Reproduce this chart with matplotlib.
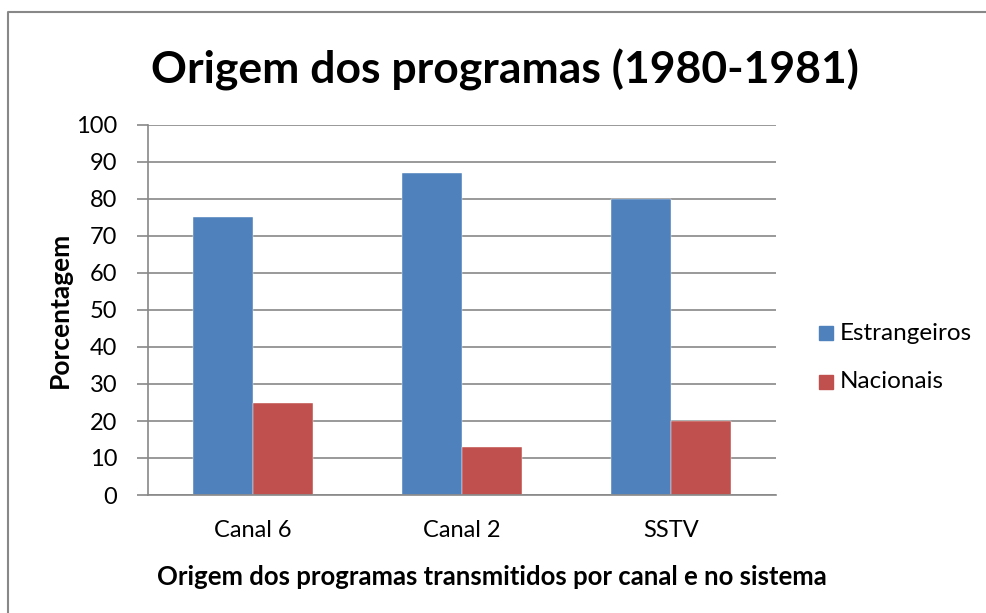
import matplotlib.pyplot as plt
import numpy as np
from matplotlib.lines import Line2D
from matplotlib.patches import Rectangle

plt.rcParams['font.family'] = ['Lato', 'DejaVu Sans']

canais = ["Canal 6", "Canal 2", "SSTV"]
estrangeiros = [75, 87, 80]
nacionais = [25, 13, 20]
series = ["Estrangeiros", "Nacionais"]
cores = ["#4F81BD", "#C0504D"]

fig = plt.figure(figsize=(9.87, 6.13), dpi=100)
ax = fig.add_axes([148 / 987, 1 - 495 / 613, (776 - 148) / 987, (495 - 125) / 613])

x = np.arange(len(canais))
w = 0.287
ax.bar(x - w / 2, estrangeiros, w, color=cores[0], edgecolor="white", linewidth=0.3)
ax.bar(x + w / 2, nacionais, w, color=cores[1], edgecolor="white", linewidth=0.3)

ax.set_xlim(-0.5, 2.5)
ax.set_ylim(0, 100)
ax.set_yticks(range(0, 101, 10))
ax.set_xticks(x)
ax.set_xticklabels(canais, fontsize=17)
ax.tick_params(axis="y", labelsize=17, length=8, width=1.2, color="#888888", pad=14)
ax.tick_params(axis="x", length=0, pad=18)
ax.yaxis.grid(True, color="#888888", linewidth=1.2)
ax.set_axisbelow(True)
for s in ["top", "right"]:
    ax.spines[s].set_visible(False)
for s in ["left", "bottom"]:
    ax.spines[s].set_color("#888888")
    ax.spines[s].set_linewidth(1.2)

fig.text(505 / 987, 1 - 70 / 613, "Origem dos programas (1980-1981)", fontsize=32,
         fontweight="bold", ha="center", va="center")
fig.text(60 / 987, 1 - 310 / 613, "Porcentagem", fontsize=19, fontweight="bold",
         rotation=90, ha="center", va="center")
fig.text(492 / 987, 1 - 577 / 613, "Origem dos programas transmitidos por canal e no sistema",
         fontsize=18.5, fontweight="bold", ha="center", va="center")

# legenda
for i, (nome, cor) in enumerate(zip(series, cores)):
    yc = 333 + i * 49
    fig.patches.append(Rectangle((819 / 987, 1 - (yc + 7) / 613), 14 / 987, 14 / 613,
                                 transform=fig.transFigure, color=cor))
    fig.text(840 / 987, 1 - yc / 613, nome, fontsize=17.5, ha="left", va="center")

# moldura
fig.lines.append(Line2D([8 / 987, 8 / 987, 1], [0, 1 - 12 / 613, 1 - 12 / 613],
                        transform=fig.transFigure, color="#888888", linewidth=1.5))

fig.savefig("out.png", dpi=100)
